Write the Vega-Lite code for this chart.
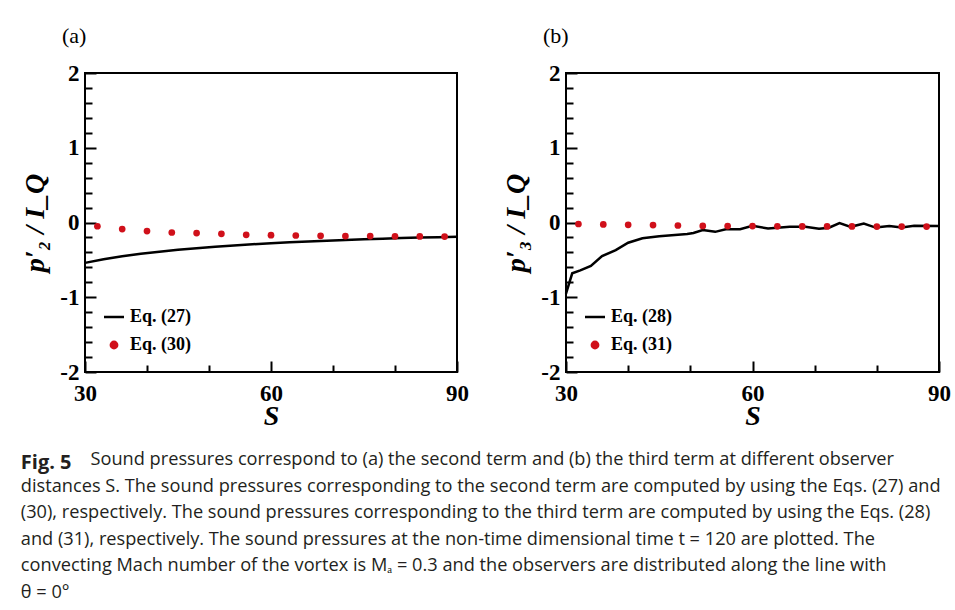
{
  "$schema": "https://vega.github.io/schema/vega-lite/v6.json",
  "background": "white",
  "padding": {"left": 20, "top": 24, "right": 2, "bottom": 2},
  "datasets": {
    "a_line": [
      {"series": "Eq. (27)", "S": 30, "v": -0.54},
      {"series": "Eq. (27)", "S": 33, "v": -0.492},
      {"series": "Eq. (27)", "S": 36, "v": -0.452},
      {"series": "Eq. (27)", "S": 39, "v": -0.419},
      {"series": "Eq. (27)", "S": 42, "v": -0.39},
      {"series": "Eq. (27)", "S": 45, "v": -0.365},
      {"series": "Eq. (27)", "S": 48, "v": -0.343},
      {"series": "Eq. (27)", "S": 51, "v": -0.324},
      {"series": "Eq. (27)", "S": 54, "v": -0.307},
      {"series": "Eq. (27)", "S": 57, "v": -0.291},
      {"series": "Eq. (27)", "S": 60, "v": -0.277},
      {"series": "Eq. (27)", "S": 63, "v": -0.265},
      {"series": "Eq. (27)", "S": 66, "v": -0.254},
      {"series": "Eq. (27)", "S": 69, "v": -0.243},
      {"series": "Eq. (27)", "S": 72, "v": -0.234},
      {"series": "Eq. (27)", "S": 75, "v": -0.225},
      {"series": "Eq. (27)", "S": 78, "v": -0.217},
      {"series": "Eq. (27)", "S": 81, "v": -0.209},
      {"series": "Eq. (27)", "S": 84, "v": -0.202},
      {"series": "Eq. (27)", "S": 87, "v": -0.196},
      {"series": "Eq. (27)", "S": 90, "v": -0.19}
    ],
    "a_pts": [
      {"series": "Eq. (30)", "S": 32, "v": -0.05},
      {"series": "Eq. (30)", "S": 36, "v": -0.088},
      {"series": "Eq. (30)", "S": 40, "v": -0.115},
      {"series": "Eq. (30)", "S": 44, "v": -0.134},
      {"series": "Eq. (30)", "S": 48, "v": -0.142},
      {"series": "Eq. (30)", "S": 52, "v": -0.151},
      {"series": "Eq. (30)", "S": 56, "v": -0.165},
      {"series": "Eq. (30)", "S": 60, "v": -0.169},
      {"series": "Eq. (30)", "S": 64, "v": -0.174},
      {"series": "Eq. (30)", "S": 68, "v": -0.178},
      {"series": "Eq. (30)", "S": 72, "v": -0.182},
      {"series": "Eq. (30)", "S": 76, "v": -0.182},
      {"series": "Eq. (30)", "S": 80, "v": -0.185},
      {"series": "Eq. (30)", "S": 84, "v": -0.187},
      {"series": "Eq. (30)", "S": 88, "v": -0.188}
    ],
    "b_line": [
      {"series": "Eq. (28)", "S": 30, "v": -0.95},
      {"series": "Eq. (28)", "S": 31, "v": -0.68},
      {"series": "Eq. (28)", "S": 32.3, "v": -0.64},
      {"series": "Eq. (28)", "S": 34, "v": -0.58},
      {"series": "Eq. (28)", "S": 35.8, "v": -0.45},
      {"series": "Eq. (28)", "S": 38, "v": -0.37},
      {"series": "Eq. (28)", "S": 40, "v": -0.27},
      {"series": "Eq. (28)", "S": 42.3, "v": -0.21},
      {"series": "Eq. (28)", "S": 45, "v": -0.185},
      {"series": "Eq. (28)", "S": 47, "v": -0.17},
      {"series": "Eq. (28)", "S": 49.5, "v": -0.155},
      {"series": "Eq. (28)", "S": 50.5, "v": -0.14},
      {"series": "Eq. (28)", "S": 52, "v": -0.1},
      {"series": "Eq. (28)", "S": 54, "v": -0.125},
      {"series": "Eq. (28)", "S": 55.7, "v": -0.09},
      {"series": "Eq. (28)", "S": 58, "v": -0.09},
      {"series": "Eq. (28)", "S": 60, "v": -0.045},
      {"series": "Eq. (28)", "S": 62.5, "v": -0.08},
      {"series": "Eq. (28)", "S": 66, "v": -0.058},
      {"series": "Eq. (28)", "S": 68.5, "v": -0.058},
      {"series": "Eq. (28)", "S": 70.7, "v": -0.085},
      {"series": "Eq. (28)", "S": 72.3, "v": -0.07},
      {"series": "Eq. (28)", "S": 74, "v": -0.008},
      {"series": "Eq. (28)", "S": 75.8, "v": -0.058},
      {"series": "Eq. (28)", "S": 77.9, "v": -0.014},
      {"series": "Eq. (28)", "S": 79.8, "v": -0.068},
      {"series": "Eq. (28)", "S": 82, "v": -0.047},
      {"series": "Eq. (28)", "S": 84, "v": -0.066},
      {"series": "Eq. (28)", "S": 86, "v": -0.045},
      {"series": "Eq. (28)", "S": 90, "v": -0.048}
    ],
    "b_pts": [
      {"series": "Eq. (31)", "S": 32, "v": -0.02},
      {"series": "Eq. (31)", "S": 36, "v": -0.026},
      {"series": "Eq. (31)", "S": 40, "v": -0.031},
      {"series": "Eq. (31)", "S": 44, "v": -0.035},
      {"series": "Eq. (31)", "S": 48, "v": -0.04},
      {"series": "Eq. (31)", "S": 52, "v": -0.046},
      {"series": "Eq. (31)", "S": 56, "v": -0.048},
      {"series": "Eq. (31)", "S": 60, "v": -0.048},
      {"series": "Eq. (31)", "S": 64, "v": -0.051},
      {"series": "Eq. (31)", "S": 68, "v": -0.052},
      {"series": "Eq. (31)", "S": 72, "v": -0.053},
      {"series": "Eq. (31)", "S": 76, "v": -0.053},
      {"series": "Eq. (31)", "S": 80, "v": -0.054},
      {"series": "Eq. (31)", "S": 84, "v": -0.054},
      {"series": "Eq. (31)", "S": 88, "v": -0.055}
    ]
  },
  "title": {
    "text": "Fig. 5",
    "subtitle": [
      "\u200b\u2003\u2003\u2003\u2002\u2009\u2009Sound pressures correspond to (a) the second term and (b) the third term at different observer",
      "distances S. The sound pressures corresponding to the second term are computed by using the Eqs. (27) and",
      "(30), respectively. The sound pressures corresponding to the third term are computed by using the Eqs. (28)",
      "and (31), respectively. The sound pressures at the non-time dimensional time t = 120 are plotted. The",
      "convecting Mach number of the vortex is Mₐ = 0.3 and the observers are distributed along the line with",
      "θ = 0°"
    ],
    "orient": "bottom",
    "anchor": "start",
    "frame": "bounds",
    "offset": 22,
    "font": "Open Sans",
    "fontSize": 20,
    "fontWeight": "bold",
    "color": "#231f20",
    "subtitleFont": "Open Sans",
    "subtitleFontSize": 18.2,
    "subtitleColor": "#231f20",
    "subtitleLineHeight": 26.6,
    "subtitlePadding": -22
  },
  "spacing": 31,
  "resolve": {"scale": {"color": "independent"}, "legend": {"color": "independent"}},
  "hconcat": [
    {
      "width": 372,
      "height": 299,
      "title": {"text": "(a)", "anchor": "start", "frame": "group", "dx": -23, "offset": 14, "font": "Liberation Serif", "fontSize": 22, "fontWeight": "normal", "color": "black"},
      "layer": [
        {
          "data": {"name": "a_line"},
          "mark": {"type": "line", "strokeWidth": 2.5},
          "encoding": {
            "x": {"field": "S", "type": "quantitative", "scale": {"domain": [30, 90], "nice": false, "zero": false},
                  "axis": {"orient": "bottom", "values": [30, 60, 90], "tickSize": -11, "labelPadding": 21, "labelFlush": false, "labelOverlap": false, "title": "S", "titlePadding": -3}},
            "y": {"field": "v", "type": "quantitative", "scale": {"domain": [-2, 2], "nice": false, "zero": false},
                  "axis": {"orient": "left", "values": [-2, -1, 0, 1, 2], "tickSize": -11, "labelPadding": 17, "labelExpr": "'' + datum.value", "title": "p′₂ / I_Q", "titlePadding": 10}},
            "color": {"field": "series", "type": "nominal", "scale": {"domain": ["Eq. (27)", "Eq. (30)"], "range": ["black", "#d0101a"]},
                      "legend": {"orient": "none", "legendX": 20, "legendY": 235, "title": null, "padding": 0, "symbolSize": 400, "rowPadding": 10, "labelOffset": 7,
                                 "labelFont": "Liberation Serif", "labelFontWeight": "bold", "labelFontSize": 18, "labelColor": "black",
                                 "encode": {"symbols": {"update": {
                                   "shape": {"signal": "datum.value === 'Eq. (27)' ? 'stroke' : 'circle'"},
                                   "size": {"signal": "datum.value === 'Eq. (27)' ? 400 : 40"},
                                   "stroke": {"signal": "datum.value === 'Eq. (27)' ? 'black' : 'transparent'"},
                                   "fill": {"signal": "datum.value === 'Eq. (27)' ? 'transparent' : '#d0101a'"},
                                   "strokeWidth": {"value": 2.5},
                                   "opacity": {"value": 1}
                                 }}}}}
          }
        },
        {
          "data": {"name": "a_pts"},
          "mark": {"type": "point", "filled": true, "size": 45, "opacity": 1},
          "encoding": {
            "x": {"field": "S", "type": "quantitative", "axis": {"orient": "bottom", "values": [40, 50, 70, 80], "tickSize": -7, "labels": false, "title": null}},
            "y": {"field": "v", "type": "quantitative", "axis": {"orient": "left", "values": [-1.8, -1.6, -1.4, -1.2, -0.8, -0.6, -0.4, -0.2, 0.2, 0.4, 0.6, 0.8, 1.2, 1.4, 1.6, 1.8], "tickSize": -7, "labels": false, "title": null}},
            "color": {"field": "series", "type": "nominal",
                      "legend": {"orient": "none", "legendX": 20, "legendY": 235, "title": null, "padding": 0, "symbolSize": 400, "rowPadding": 10, "labelOffset": 7,
                                 "labelFont": "Liberation Serif", "labelFontWeight": "bold", "labelFontSize": 18, "labelColor": "black",
                                 "encode": {"symbols": {"update": {
                                   "shape": {"signal": "datum.value === 'Eq. (27)' ? 'stroke' : 'circle'"},
                                   "size": {"signal": "datum.value === 'Eq. (27)' ? 400 : 40"},
                                   "stroke": {"signal": "datum.value === 'Eq. (27)' ? 'black' : 'transparent'"},
                                   "fill": {"signal": "datum.value === 'Eq. (27)' ? 'transparent' : '#d0101a'"},
                                   "strokeWidth": {"value": 2.5},
                                   "opacity": {"value": 1}
                                 }}}}}
          }
        }
      ],
      "resolve": {"axis": {"x": "independent", "y": "independent"}}
    },
    {
      "width": 373,
      "height": 299,
      "title": {"text": "(b)", "anchor": "start", "frame": "group", "dx": -23, "offset": 14, "font": "Liberation Serif", "fontSize": 22, "fontWeight": "normal", "color": "black"},
      "layer": [
        {
          "data": {"name": "b_line"},
          "mark": {"type": "line", "strokeWidth": 2.5},
          "encoding": {
            "x": {"field": "S", "type": "quantitative", "scale": {"domain": [30, 90], "nice": false, "zero": false},
                  "axis": {"orient": "bottom", "values": [30, 60, 90], "tickSize": -11, "labelPadding": 21, "labelFlush": false, "labelOverlap": false, "title": "S", "titlePadding": -3}},
            "y": {"field": "v", "type": "quantitative", "scale": {"domain": [-2, 2], "nice": false, "zero": false},
                  "axis": {"orient": "left", "values": [-2, -1, 0, 1, 2], "tickSize": -11, "labelPadding": 17, "labelExpr": "'' + datum.value", "title": "p′₃ / I_Q", "titlePadding": 10}},
            "color": {"field": "series", "type": "nominal", "scale": {"domain": ["Eq. (28)", "Eq. (31)"], "range": ["black", "#d0101a"]},
                      "legend": {"orient": "none", "legendX": 20, "legendY": 235, "title": null, "padding": 0, "symbolSize": 400, "rowPadding": 10, "labelOffset": 7,
                                 "labelFont": "Liberation Serif", "labelFontWeight": "bold", "labelFontSize": 18, "labelColor": "black",
                                 "encode": {"symbols": {"update": {
                                   "shape": {"signal": "datum.value === 'Eq. (28)' ? 'stroke' : 'circle'"},
                                   "size": {"signal": "datum.value === 'Eq. (28)' ? 400 : 40"},
                                   "stroke": {"signal": "datum.value === 'Eq. (28)' ? 'black' : 'transparent'"},
                                   "fill": {"signal": "datum.value === 'Eq. (28)' ? 'transparent' : '#d0101a'"},
                                   "strokeWidth": {"value": 2.5},
                                   "opacity": {"value": 1}
                                 }}}}}
          }
        },
        {
          "data": {"name": "b_pts"},
          "mark": {"type": "point", "filled": true, "size": 45, "opacity": 1},
          "encoding": {
            "x": {"field": "S", "type": "quantitative", "axis": {"orient": "bottom", "values": [40, 50, 70, 80], "tickSize": -7, "labels": false, "title": null}},
            "y": {"field": "v", "type": "quantitative", "axis": {"orient": "left", "values": [-1.8, -1.6, -1.4, -1.2, -0.8, -0.6, -0.4, -0.2, 0.2, 0.4, 0.6, 0.8, 1.2, 1.4, 1.6, 1.8], "tickSize": -7, "labels": false, "title": null}},
            "color": {"field": "series", "type": "nominal",
                      "legend": {"orient": "none", "legendX": 20, "legendY": 235, "title": null, "padding": 0, "symbolSize": 400, "rowPadding": 10, "labelOffset": 7,
                                 "labelFont": "Liberation Serif", "labelFontWeight": "bold", "labelFontSize": 18, "labelColor": "black",
                                 "encode": {"symbols": {"update": {
                                   "shape": {"signal": "datum.value === 'Eq. (28)' ? 'stroke' : 'circle'"},
                                   "size": {"signal": "datum.value === 'Eq. (28)' ? 400 : 40"},
                                   "stroke": {"signal": "datum.value === 'Eq. (28)' ? 'black' : 'transparent'"},
                                   "fill": {"signal": "datum.value === 'Eq. (28)' ? 'transparent' : '#d0101a'"},
                                   "strokeWidth": {"value": 2.5},
                                   "opacity": {"value": 1}
                                 }}}}}
          }
        }
      ],
      "resolve": {"axis": {"x": "independent", "y": "independent"}}
    }
  ],
  "config": {
    "view": {"stroke": "black", "strokeWidth": 2},
    "axis": {
      "grid": false, "domain": false, "tickColor": "black", "tickWidth": 2,
      "labelFont": "Liberation Serif", "labelFontWeight": "bold", "labelFontSize": 23, "labelColor": "black",
      "titleFont": "Liberation Serif", "titleFontWeight": "bold", "titleFontStyle": "italic", "titleFontSize": 28, "titleColor": "black"
    }
  }
}
